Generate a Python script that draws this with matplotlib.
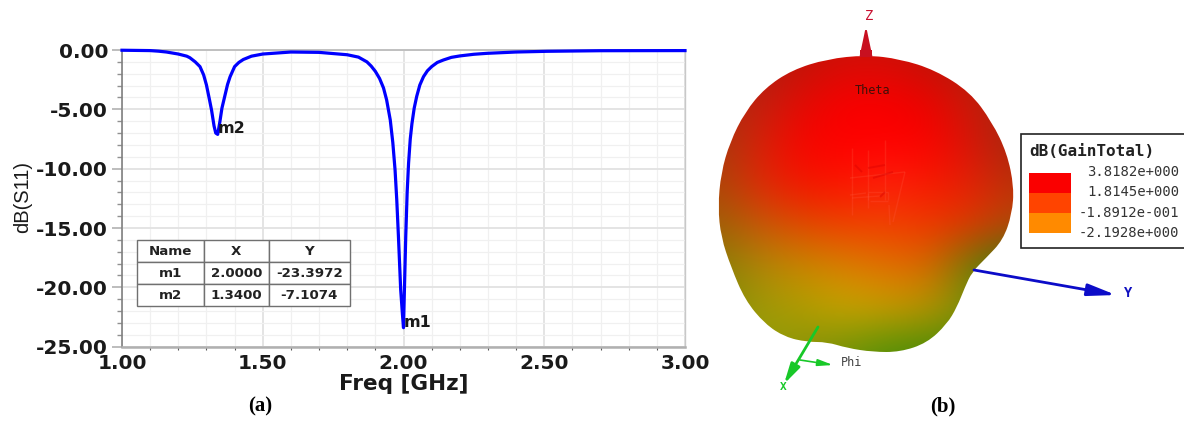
import matplotlib
matplotlib.use("Agg")
import matplotlib.pyplot as plt
from matplotlib.collections import LineCollection
from matplotlib.colors import to_rgb
from matplotlib.patches import FancyArrowPatch, PathPatch, Rectangle
from matplotlib.path import Path
from matplotlib.ticker import MultipleLocator
import numpy as np

W, H = 1184, 421

# S11 curve
freq = [1.00, 1.10, 1.13, 1.158, 1.20, 1.23, 1.241, 1.26, 1.277, 1.29, 1.30, 1.31, 1.318, 1.327, 1.333, 1.34,
        1.348, 1.355, 1.366, 1.375, 1.384, 1.40, 1.415, 1.431, 1.46, 1.50, 1.60, 1.70, 1.80, 1.84, 1.87, 1.885,
        1.90, 1.915, 1.929, 1.94, 1.953, 1.962, 1.97, 1.976, 1.982, 1.99, 1.996, 2.00, 2.004, 2.008, 2.013,
        2.018, 2.024, 2.03, 2.038, 2.047, 2.058, 2.071, 2.085, 2.10, 2.12, 2.142, 2.17, 2.20, 2.25, 2.297,
        2.40, 2.51, 2.70, 3.00]
s11 = [-0.02, -0.05, -0.1, -0.17, -0.34, -0.52, -0.65, -1.0, -1.4, -2.1, -2.95, -4.1, -5.05, -6.4, -7.0, -7.11,
       -6.0, -4.9, -3.8, -2.9, -2.25, -1.4, -1.05, -0.8, -0.52, -0.34, -0.17, -0.2, -0.4, -0.6, -1.0, -1.35,
       -1.8, -2.4, -3.2, -4.2, -5.9, -7.8, -10.1, -12.6, -15.7, -20.2, -22.2, -23.4, -19.5, -15.7, -12.0,
       -9.55, -7.5, -6.2, -4.9, -3.9, -2.95, -2.25, -1.75, -1.4, -1.05, -0.84, -0.62, -0.5, -0.36, -0.28,
       -0.17, -0.11, -0.06, -0.05]

x_ticks = [1.0, 1.5, 2.0, 2.5, 3.0]
x_tick_labels = ["1.00", "1.50", "2.00", "2.50", "3.00"]
y_ticks = [0, -5, -10, -15, -20, -25]
y_tick_labels = ["0.00", "-5.00", "-10.00", "-15.00", "-20.00", "-25.00"]

table_cols = ["Name", "X", "Y"]
table_rows = [["m1", "2.0000", "-23.3972"], ["m2", "1.3400", "-7.1074"]]
marker_names = ["m1", "m2"]
marker_x = [2.0, 1.34]
marker_y = [-23.3972, -7.1074]

# radiation pattern, outline and colours in picture pixels
blob_x = [866, 900, 935, 970, 992, 1007, 1014, 1012, 1003, 986, 972, 965, 957, 947, 927, 900, 873,
          847, 827, 807, 785, 765, 745, 731, 721, 718, 721, 730, 745, 765, 792, 827]
blob_y = [55, 59, 70, 92, 122, 153, 187, 214, 240, 258, 272, 287, 307, 324, 343, 352, 352,
          348, 342, 342, 337, 324, 300, 267, 237, 207, 173, 142, 112, 88, 70, 59]
blob_colors = [
    ["#a82010", "#b01c10", "#c01408", "#d01008", "#d01008", "#c01408", "#b01c10", "#a82010"],
    ["#b02810", "#c02010", "#e00c04", "#f80000", "#f80000", "#e80400", "#c81c08", "#a82810"],
    ["#a83810", "#d82008", "#f80400", "#ff0000", "#ff0000", "#fc0200", "#d81408", "#a82810"],
    ["#b04408", "#e02808", "#f41400", "#fc1400", "#ff2010", "#f81800", "#e42008", "#bc3008"],
    ["#a06008", "#c85808", "#e04800", "#f04000", "#f04000", "#f03800", "#e03800", "#b84808"],
    ["#8a8008", "#b08808", "#c88800", "#d88000", "#e07000", "#d86800", "#6a8008", "#308010"],
    ["#809008", "#a09808", "#b0a000", "#c8a800", "#c8a000", "#b89800", "#80900a", "#508a10"],
    ["#a0a010", "#90a008", "#88900a", "#709008", "#509008", "#488a08", "#488a08", "#488a08"],
]
# faint mesh showing through in the middle of the pattern
mesh_light = [((852, 148), (852, 215)), ((868, 150), (868, 208)), ((885, 140), (885, 200)), ((905, 172), (893, 222)),
              ((850, 178), (905, 172)), ((852, 198), (880, 196)), ((868, 192), (888, 192)), ((868, 193), (868, 200)),
              ((870, 201), (888, 201)), ((888, 192), (888, 200)), ((889, 205), (890, 225)), ((850, 195), (866, 193))]
mesh_dark = [((868, 168), (885, 165)), ((873, 178), (893, 172)), ((855, 165), (862, 172)), ((880, 197), (885, 192))]

gain_labels = ["3.8182e+000", "1.8145e+000", "-1.8912e-001", "-2.1928e+000"]
gain_colors = ["#fa0000", "#ff4400", "#ff8a00"]

fig = plt.figure(figsize=(W / 100, H / 100), dpi=100, facecolor="white")

# (a) return loss
ax = fig.add_axes([122 / W, 1 - 346.7 / H, 563 / W, 296.7 / H])
ax.plot(freq, s11, color="#0000ff", lw=2.3, clip_on=False, zorder=5, solid_joinstyle="round")
ax.set_xlim(1, 3)
ax.set_ylim(-25, 0)
ax.set_xticks(x_ticks, labels=x_tick_labels, fontweight="bold", color="#1a1a1a")
ax.set_yticks(y_ticks, labels=y_tick_labels, fontweight="bold", color="#1a1a1a")
ax.xaxis.set_minor_locator(MultipleLocator(0.1))
ax.yaxis.set_minor_locator(MultipleLocator(1))
ax.grid(which="major", color="#e2e2e2", lw=1.3)
ax.grid(which="minor", color="#f0f0f0", lw=0.9)
ax.set_axisbelow(True)
for side, col, lw in [("left", "#808080", 1.2), ("bottom", "#b0b0b0", 1.8), ("top", "#c0c0c0", 1.4), ("right", "#c8c8c8", 1.0)]:
    ax.spines[side].set_color(col)
    ax.spines[side].set_linewidth(lw)
ax.tick_params(axis="y", which="major", length=7, width=1.3, color="#b8b8b8", pad=3, labelsize=14.5)
ax.tick_params(axis="y", which="minor", length=3.5, width=1, color="#909090")
ax.tick_params(axis="x", which="major", length=0, pad=5, labelsize=14.5)
ax.tick_params(axis="x", which="minor", length=2, width=0.8, color="#555555", direction="out")
ax.set_xlabel("Freq [GHz]", fontsize=15.5, fontweight="bold", color="#1a1a1a", labelpad=1)
fig.text(23 / W, 1 - 197 / H, "dB(S11)", rotation=90, family="Liberation Sans", fontsize=14.5,
         color="#1a1a1a", ha="center", va="center")

for name, mx, my in zip(marker_names, marker_x, marker_y):
    ax.annotate(name, (mx, my), xytext=(0, 4), textcoords="offset points", fontsize=11.5,
                fontweight="bold", color="#1a1a1a", ha="left", va="center", zorder=6)

tb = ax.table(cellText=table_rows, colLabels=table_cols, cellLoc="center",
              bbox=[0.0275, 0.137, 0.377, 0.222], colWidths=[66.5, 65, 81], zorder=4)
tb.auto_set_font_size(False)
for (r, c), cell in tb.get_celld().items():
    cell.set_edgecolor("#707070")
    cell.set_linewidth(1)
    cell.set_facecolor("white")
    cell.get_text().set_fontsize(9.6)
    cell.get_text().set_fontweight("bold")
    cell.get_text().set_color("#222222")

# (b) pattern, drawn in picture pixels
ov = fig.add_axes([0, 0, 1, 1])
ov.patch.set_visible(False)
ov.axis("off")
rgb = np.array([[to_rgb(c) for c in row] for row in blob_colors])

# smooth closed outline, outline points used as quadratic control points
pts = np.column_stack([blob_x, blob_y]).astype(float)
mids = (pts + np.roll(pts, -1, axis=0)) / 2
verts = [mids[-1]]
codes = [Path.MOVETO]
for p, m in zip(pts, mids):
    verts += [p, m]
    codes += [Path.CURVE3, Path.CURVE3]
blob = PathPatch(Path(verts, codes), transform=ov.transData, fc="none", ec="none")
ov.add_patch(blob)
im = ov.imshow(rgb, extent=(700, 1032, 371, 36), interpolation="bicubic", aspect="auto", zorder=1)
im.set_clip_path(blob)
ov.add_collection(LineCollection(mesh_light, colors="#ff5a40", linewidths=1.0, alpha=0.25, zorder=2))
ov.add_collection(LineCollection(mesh_dark, colors="#d80000", linewidths=1.4, alpha=0.4, zorder=2))
ov.set_xlim(0, W)
ov.set_ylim(H, 0)


def arrow(start, end, color, lw, head_len, head_w):
    style = f"-|>,head_length={head_len},head_width={head_w}"
    ov.add_patch(FancyArrowPatch(start, end, arrowstyle=style, mutation_scale=10, color=color, lw=lw,
                                 shrinkA=0, shrinkB=0, zorder=3))


# axes of the pattern
arrow((866, 54), (866, 26), "#c81020", 1.5, 1.8, 0.38)
ov.add_patch(Rectangle((860, 50), 12, 4, fc="#c81020", ec="none", zorder=3))
arrow((974, 270), (1116, 295), "#0c0cc8", 2, 1.7, 0.36)
arrow((818, 327), (784, 384), "#18c828", 2, 1.2, 0.3)
arrow((800, 360), (833, 365), "#18c828", 1.2, 0.9, 0.2)
mono = "DejaVu Sans Mono"
ov.text(869, 16, "Z", color="#c81030", family=mono, fontsize=10, ha="center", va="center", zorder=4)
ov.text(1128, 293, "Y", color="#1010c0", family=mono, fontsize=10, fontweight="bold", ha="center", va="center", zorder=4)
ov.text(783, 387, "X", color="#18c828", family=mono, fontsize=8, fontweight="bold", ha="center", va="center", zorder=4)
ov.text(852, 362, "Phi", color="#444444", family=mono, fontsize=8.5, ha="center", va="center", zorder=4)
ov.text(873, 90, "Theta", color="#401008", family=mono, fontsize=8.5, ha="center", va="center", zorder=4)

# gain legend
ov.add_patch(Rectangle((1020.5, 133.5), 170, 114, fc="white", ec="#222222", lw=1.2, zorder=3))
ov.text(1029, 151, "dB(GainTotal)", family=mono, fontweight="bold", fontsize=11.5, color="#222222",
        ha="left", va="center", zorder=4)
for i, c in enumerate(gain_colors):
    ov.add_patch(Rectangle((1029, 173 + i * 20), 42, 20, fc=c, ec="none", zorder=4))
for i, lab in enumerate(gain_labels):
    ov.text(1179, 172 + i * 20.4, lab, family=mono, fontsize=10, color="#333333", ha="right", va="center", zorder=4)

# captions
ov.text(260, 406, "(a)", family="Liberation Serif", fontweight="bold", fontsize=15, ha="center", va="center")
ov.text(943, 406, "(b)", family="Liberation Serif", fontweight="bold", fontsize=15, ha="center", va="center")

fig.savefig("out.png", dpi=100, facecolor="white")
